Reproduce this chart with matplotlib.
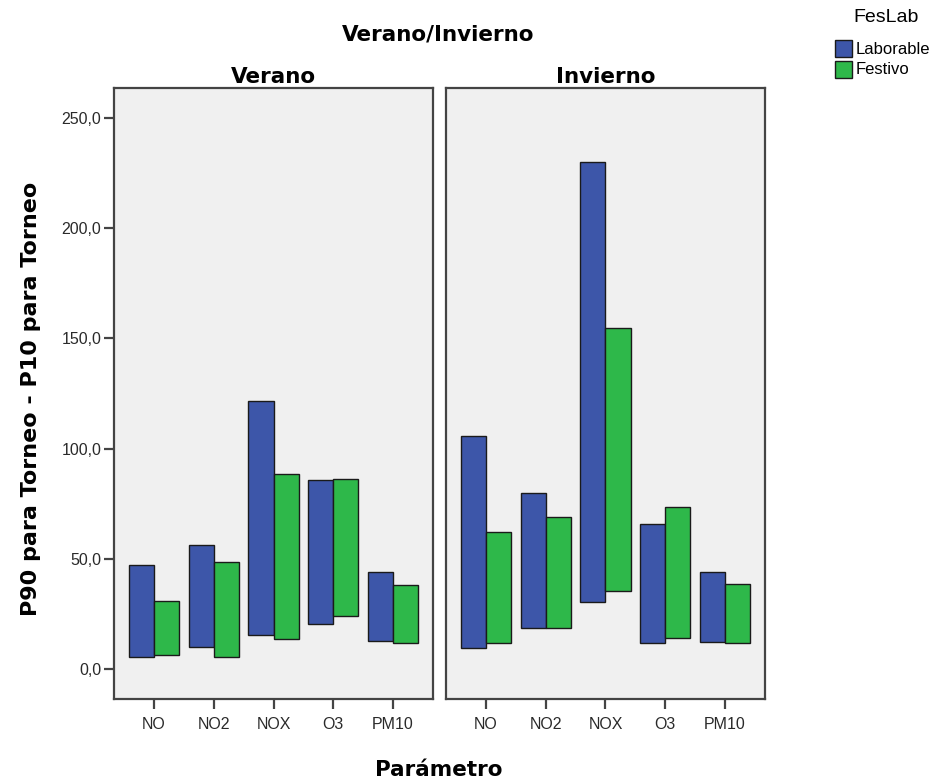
import matplotlib
matplotlib.use("Agg")
import matplotlib.pyplot as plt
import numpy as np
from matplotlib.patches import Rectangle
from matplotlib.ticker import FuncFormatter

plt.rcParams['font.family'] = ['Liberation Sans', 'DejaVu Sans']
BOLD = ['DejaVu Sans']

categories = ["NO", "NO2", "NOX", "O3", "PM10"]
panels = ["Verano", "Invierno"]
series = ["Laborable", "Festivo"]

# P10 (bottom) and P90 (top) values
verano_lab_p10 = [5.5, 10.1, 15.4, 20.3, 12.8]
verano_lab_p90 = [47.2, 56.3, 121.7, 85.8, 43.9]
verano_fes_p10 = [6.4, 5.3, 13.5, 24.0, 11.9]
verano_fes_p90 = [30.7, 48.5, 88.3, 86.3, 38.0]

invierno_lab_p10 = [9.7, 18.5, 30.3, 11.9, 12.4]
invierno_lab_p90 = [105.9, 79.7, 229.9, 65.8, 43.9]
invierno_fes_p10 = [11.9, 18.5, 35.4, 14.2, 11.9]
invierno_fes_p90 = [62.0, 69.1, 154.9, 73.4, 38.4]

yticks = [0, 50, 100, 150, 200, 250]

colors = ["#3D56A9", "#2EB84A"]
edge = "#1a1a1a"
bg = "#F0F0F0"
frame = "#444444"

W, H = 949, 780
fig = plt.figure(figsize=(W / 100, H / 100), dpi=100)
fig.patch.set_facecolor("white")

def fx(px):
    return px / W

def fy(py):
    return 1 - py / H

panel_data = {
    "Verano": [(verano_lab_p10, verano_lab_p90), (verano_fes_p10, verano_fes_p90)],
    "Invierno": [(invierno_lab_p10, invierno_lab_p90), (invierno_fes_p10, invierno_fes_p90)],
}
lefts = [114, 446]
pw = 319
top_px, bot_px = 88.3, 699.3

x = np.arange(len(categories))
bw = 0.42
axes = []
for i, name in enumerate(panels):
    ax = fig.add_axes([fx(lefts[i]), fy(bot_px), pw / W, (bot_px - top_px) / H])
    ax.set_facecolor(bg)
    for j, (p10, p90) in enumerate(panel_data[name]):
        p10 = np.array(p10)
        p90 = np.array(p90)
        offs = x - bw if j == 0 else x
        ax.bar(offs, p90 - p10, bottom=p10, width=bw, align="edge",
               color=colors[j], edgecolor=edge, linewidth=1.0, zorder=3)
    ax.set_xlim(-0.667, 4.667)
    ax.set_ylim(-13.7, 263.5)
    ax.set_xticks(x)
    ax.set_xticklabels(categories)
    ax.set_yticks(yticks)
    ax.yaxis.set_major_formatter(FuncFormatter(lambda v, p: f"{v:.1f}".replace(".", ",")))
    ax.tick_params(axis="both", direction="out", length=7, width=1.6, color=frame,
                   labelsize=11.5, labelcolor="#2a2a2a")
    ax.tick_params(axis="x", pad=6)
    ax.tick_params(axis="y", pad=2)
    if i == 1:
        ax.tick_params(axis="y", left=False, labelleft=False)
    for s in ax.spines.values():
        s.set_color(frame)
        s.set_linewidth(1.6)
    ax.set_title(name, fontsize=15.5, fontweight="bold", family=BOLD, pad=4)
    axes.append(ax)

fig.text(fx(438.5), fy(34), "Verano/Invierno", fontsize=15.5, fontweight="bold",
         family=BOLD, ha="center", va="center")
fig.text(fx(439), fy(770), "Parámetro", fontsize=15.5, fontweight="bold",
         family=BOLD, ha="center", va="center")
fig.text(fx(31), fy(399), "P90 para Torneo - P10 para Torneo", fontsize=16,
         fontweight="bold", family=BOLD, ha="center", va="center", rotation=90)

# legend
fig.text(fx(886), fy(17), "FesLab", fontsize=14, ha="center", va="center")
for k, lab in enumerate(series):
    y0 = [40, 61][k]
    fig.patches.append(Rectangle((fx(835), fy(y0 + 17)), 17 / W, 17 / H,
                                 transform=fig.transFigure, facecolor=colors[k],
                                 edgecolor=edge, linewidth=1.0))
    fig.text(fx(856), fy(y0 + 9), lab, fontsize=12, ha="left", va="center")

fig.savefig("out.png", dpi=100, facecolor="white")
